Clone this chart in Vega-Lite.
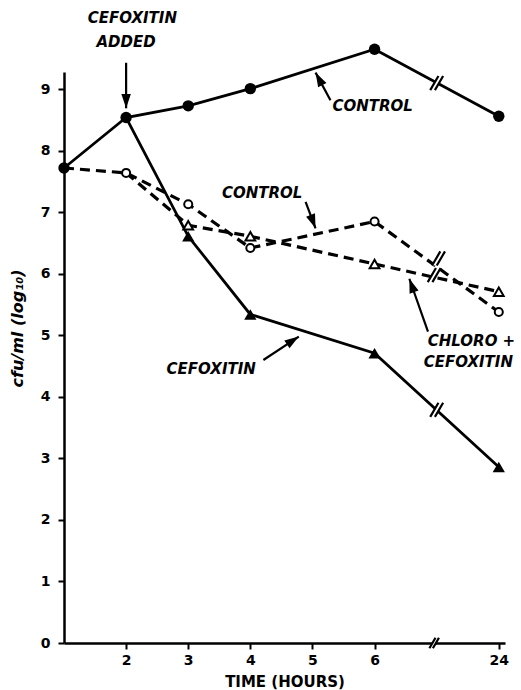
{
  "$schema": "https://vega.github.io/schema/vega-lite/v6.json",
  "width": 441,
  "height": 571,
  "autosize": {"type": "none"},
  "padding": {"left": 64, "top": 72, "right": 16, "bottom": 47},
  "background": "white",
  "config": {"view": {"stroke": null}, "font": "DejaVu Sans"},
  "datasets": {
    "series": [
      {"series": "control", "pos": 1, "v": 7.72},
      {"series": "control", "pos": 2, "v": 8.54},
      {"series": "control", "pos": 3, "v": 8.73},
      {"series": "control", "pos": 4, "v": 9.01},
      {"series": "control", "pos": 6, "v": 9.65},
      {"series": "control", "pos": 8, "v": 8.56},
      {"series": "cefoxitin", "pos": 2, "v": 8.54},
      {"series": "cefoxitin", "pos": 3, "v": 6.61},
      {"series": "cefoxitin", "pos": 4, "v": 5.34},
      {"series": "cefoxitin", "pos": 6, "v": 4.71},
      {"series": "cefoxitin", "pos": 8, "v": 2.86},
      {"series": "control_dashed", "pos": 1, "v": 7.72},
      {"series": "control_dashed", "pos": 2, "v": 7.64},
      {"series": "control_dashed", "pos": 3, "v": 7.13},
      {"series": "control_dashed", "pos": 4, "v": 6.42},
      {"series": "control_dashed", "pos": 6, "v": 6.85},
      {"series": "control_dashed", "pos": 8, "v": 5.38},
      {"series": "chloro", "pos": 2, "v": 7.64},
      {"series": "chloro", "pos": 3, "v": 6.79},
      {"series": "chloro", "pos": 4, "v": 6.61},
      {"series": "chloro", "pos": 6, "v": 6.16},
      {"series": "chloro", "pos": 8, "v": 5.71}
    ],
    "breaks": [
      {"pos": 7.0, "v": 9.1},
      {"pos": 7.0, "v": 3.79},
      {"pos": 7.03, "v": 6.25},
      {"pos": 6.96, "v": 5.98},
      {"pos": 6.96, "v": 0}
    ],
    "arrows": [
      {"id": "a1", "pos": 2, "v": 8.69, "pos2": 2, "v2": 9.43},
      {"id": "a2", "pos": 5.05, "v": 9.27, "pos2": 5.29, "v2": 8.82},
      {"id": "a3", "pos": 5.05, "v": 6.74, "pos2": 4.89, "v2": 7.17},
      {"id": "a4", "pos": 6.56, "v": 5.92, "pos2": 6.86, "v2": 5.06},
      {"id": "a5", "pos": 4.78, "v": 4.98, "pos2": 4.21, "v2": 4.6}
    ],
    "labels": [
      {"text": "CEFOXITIN", "pos": 2.1, "v": 10.16},
      {"text": "ADDED", "pos": 2.0, "v": 9.77},
      {"text": "CONTROL", "pos": 5.97, "v": 8.73},
      {"text": "CONTROL", "pos": 4.19, "v": 7.31},
      {"text": "CHLORO +", "pos": 7.56, "v": 4.91},
      {"text": "CEFOXITIN", "pos": 7.51, "v": 4.56},
      {"text": "CEFOXITIN", "pos": 3.37, "v": 4.46}
    ]
  },
  "encoding": {
    "x": {
      "field": "pos",
      "type": "quantitative",
      "scale": {"domain": [1, 8.1], "nice": false, "zero": false},
      "axis": {
        "values": [2, 3, 4, 5, 6, 8],
        "labelExpr": "datum.value == 8 ? '24' : datum.label",
        "title": "TIME  (HOURS)",
        "grid": false,
        "tickSize": 6,
        "tickWidth": 2,
        "domainWidth": 2.5,
        "domainColor": "black",
        "tickColor": "black",
        "labelColor": "black",
        "titleColor": "black",
        "labelFont": "DejaVu Sans",
        "labelFontWeight": "bold",
        "labelFontSize": 14,
        "labelPadding": 4,
        "titleFont": "DejaVu Sans",
        "titleFontWeight": "bold",
        "titleFontSize": 15,
        "titlePadding": 7
      }
    },
    "y": {
      "field": "v",
      "type": "quantitative",
      "scale": {"domain": [0, 9.28], "nice": false},
      "axis": {
        "values": [0, 1, 2, 3, 4, 5, 6, 7, 8, 9],
        "title": "cfu/ml  (log₁₀)",
        "grid": false,
        "tickSize": 6,
        "tickWidth": 2,
        "domainWidth": 2.5,
        "domainColor": "black",
        "tickColor": "black",
        "labelColor": "black",
        "titleColor": "black",
        "labelFont": "DejaVu Sans",
        "labelFontWeight": "bold",
        "labelFontSize": 14,
        "labelPadding": 8,
        "titleFont": "DejaVu Sans",
        "titleFontWeight": "bold",
        "titleFontStyle": "italic",
        "titleFontSize": 16,
        "titleX": -47,
        "titleY": 256,
        "titleAlign": "center",
        "titleBaseline": "middle"
      }
    }
  },
  "layer": [
    {
      "data": {"name": "series"},
      "transform": [{"filter": "datum.series == 'control' || datum.series == 'cefoxitin'"}],
      "mark": {"type": "line", "color": "black", "strokeWidth": 2.8},
      "encoding": {"detail": {"field": "series"}, "order": {"field": "pos"}}
    },
    {
      "data": {"name": "series"},
      "transform": [{"filter": "datum.series == 'control_dashed' || datum.series == 'chloro'"}],
      "mark": {"type": "line", "color": "black", "strokeWidth": 3.2, "strokeDash": [10, 6]},
      "encoding": {"detail": {"field": "series"}, "order": {"field": "pos"}}
    },
    {
      "data": {"name": "breaks"},
      "transform": [{"filter": "datum.v > 0"}],
      "mark": {"type": "point", "shape": "M-0.55,0.6L0.15,-0.6L0.55,-0.6L-0.15,0.6Z", "size": 550, "filled": true, "fill": "white", "strokeWidth": 0, "opacity": 1}
    },
    {
      "data": {"name": "breaks"},
      "transform": [{"filter": "datum.v > 0"}],
      "mark": {"type": "point", "shape": "M-0.55,0.6L0.15,-0.6M-0.15,0.6L0.55,-0.6", "size": 550, "filled": false, "stroke": "black", "strokeWidth": 2.2, "opacity": 1}
    },
    {
      "data": {"name": "breaks"},
      "transform": [{"filter": "datum.v == 0"}],
      "mark": {"type": "point", "shape": "M-0.55,0.6L0.15,-0.6L0.55,-0.6L-0.15,0.6Z", "size": 300, "filled": true, "fill": "white", "strokeWidth": 0, "opacity": 1}
    },
    {
      "data": {"name": "breaks"},
      "transform": [{"filter": "datum.v == 0"}],
      "mark": {"type": "point", "shape": "M-0.55,0.6L0.15,-0.6M-0.15,0.6L0.55,-0.6", "size": 300, "filled": false, "stroke": "black", "strokeWidth": 2.2, "opacity": 1}
    },
    {
      "data": {"name": "series"},
      "transform": [{"filter": "datum.series == 'control'"}],
      "mark": {"type": "point", "shape": "circle", "size": 130, "filled": true, "fill": "black", "opacity": 1}
    },
    {
      "data": {"name": "series"},
      "transform": [{"filter": "datum.series == 'cefoxitin' && datum.pos > 2"}],
      "mark": {"type": "point", "shape": "triangle-up", "size": 150, "filled": true, "fill": "black", "opacity": 1}
    },
    {
      "data": {"name": "series"},
      "transform": [{"filter": "datum.series == 'control_dashed' && datum.pos > 1"}],
      "mark": {"type": "point", "shape": "circle", "size": 65, "filled": true, "fill": "white", "stroke": "black", "strokeWidth": 2, "opacity": 1}
    },
    {
      "data": {"name": "series"},
      "transform": [{"filter": "datum.series == 'chloro' && datum.pos > 2"}],
      "mark": {"type": "point", "shape": "triangle-up", "size": 95, "filled": true, "fill": "white", "stroke": "black", "strokeWidth": 2, "opacity": 1}
    },
    {
      "data": {"name": "arrows"},
      "mark": {"type": "rule", "color": "black", "strokeWidth": 2.2},
      "encoding": {"x2": {"field": "pos2"}, "y2": {"field": "v2"}}
    },
    {
      "data": {"name": "arrows"},
      "mark": {"type": "point", "size": 140, "filled": true, "fill": "black", "opacity": 1},
      "encoding": {
        "shape": {
          "field": "id",
          "type": "nominal",
          "legend": null,
          "scale": {
            "domain": ["a1", "a2", "a3", "a4", "a5"],
            "range": [
              "M0,0L-0.8,-2.4L0.8,-2.4Z",
              "M0,0L1.843,1.735L0.433,2.493Z",
              "M0,0L-1.594,-1.964L-0.096,-2.528Z",
              "M0,0L1.551,1.997L0.043,2.529Z",
              "M0,0L-1.562,1.993L-2.446,0.657Z"
            ]
          }
        }
      }
    },
    {
      "data": {"name": "labels"},
      "mark": {"type": "text", "font": "DejaVu Sans", "fontWeight": "bold", "fontStyle": "italic", "fontSize": 15, "align": "center", "baseline": "middle", "color": "black"},
      "encoding": {"text": {"field": "text"}}
    }
  ]
}
